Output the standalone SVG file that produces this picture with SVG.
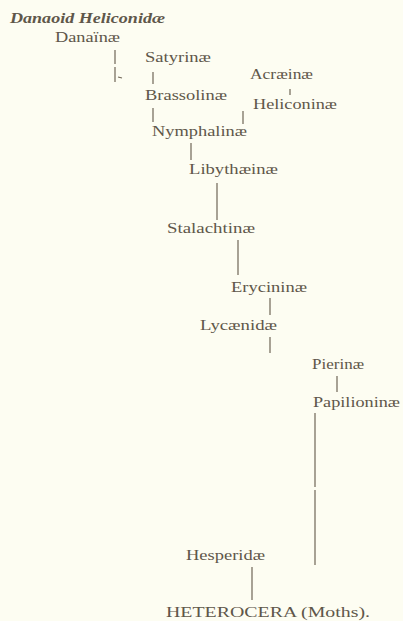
<svg xmlns="http://www.w3.org/2000/svg" width="403" height="621" viewBox="0 0 403 621">
<style>
text{font-family:"Liberation Serif","DejaVu Serif",serif;font-size:15px;fill:#5f574a}
.it{font-style:italic;font-weight:bold}
.c line{stroke:#6f6656;stroke-width:1.2}
</style>
<rect width="403" height="621" fill="#fdfdf2"/>
<g id="n-danaoid"><text class="it" x="10" y="23" textLength="155" lengthAdjust="spacingAndGlyphs">Danaoid Heliconidæ</text></g>
<g id="n-danainae"><text x="55" y="42" textLength="65" lengthAdjust="spacingAndGlyphs">Danaïnæ</text></g>
<g id="n-satyrinae"><text x="145" y="62" textLength="66" lengthAdjust="spacingAndGlyphs">Satyrinæ</text></g>
<g id="n-acraeinae"><text x="250" y="79" textLength="63" lengthAdjust="spacingAndGlyphs">Acræinæ</text></g>
<g id="n-brassolinae"><text x="145" y="100" textLength="82" lengthAdjust="spacingAndGlyphs">Brassolinæ</text></g>
<g id="n-heliconinae"><text x="253" y="109" textLength="84" lengthAdjust="spacingAndGlyphs">Heliconinæ</text></g>
<g id="n-nymphalinae"><text x="152" y="136" textLength="95" lengthAdjust="spacingAndGlyphs">Nymphalinæ</text></g>
<g id="n-libythaeinae"><text x="189" y="174" textLength="89" lengthAdjust="spacingAndGlyphs">Libythæinæ</text></g>
<g id="n-stalachtinae"><text x="167" y="233" textLength="88" lengthAdjust="spacingAndGlyphs">Stalachtinæ</text></g>
<g id="n-erycininae"><text x="231" y="292" textLength="76" lengthAdjust="spacingAndGlyphs">Erycininæ</text></g>
<g id="n-lycaenidae"><text x="200" y="330" textLength="77" lengthAdjust="spacingAndGlyphs">Lycænidæ</text></g>
<g id="n-pierinae"><text x="312" y="369" textLength="52" lengthAdjust="spacingAndGlyphs">Pierinæ</text></g>
<g id="n-papilioninae"><text x="313" y="407" textLength="87" lengthAdjust="spacingAndGlyphs">Papilioninæ</text></g>
<g id="n-hesperidae"><text x="186" y="560" textLength="79" lengthAdjust="spacingAndGlyphs">Hesperidæ</text></g>
<g id="n-heterocera"><text x="166" y="617" textLength="204" lengthAdjust="spacingAndGlyphs">HETEROCERA (Moths).</text></g>
<g id="connectors" class="c">
<line x1="115" y1="50" x2="115" y2="64"/>
<line x1="115" y1="67" x2="115" y2="82"/>
<line x1="118" y1="77" x2="122" y2="78"/>
<line x1="153" y1="72" x2="153" y2="84"/>
<line x1="290" y1="89" x2="290" y2="95"/>
<line x1="153" y1="108" x2="153" y2="122"/>
<line x1="243" y1="111" x2="243" y2="124"/>
<line x1="191" y1="143" x2="191" y2="160"/>
<line x1="217" y1="183" x2="217" y2="220"/>
<line x1="238" y1="240" x2="238" y2="275"/>
<line x1="270" y1="298" x2="270" y2="315"/>
<line x1="270" y1="337" x2="270" y2="353"/>
<line x1="337" y1="376" x2="337" y2="392"/>
<line x1="315" y1="413" x2="315" y2="487"/>
<line x1="315" y1="490" x2="315" y2="565"/>
<line x1="252" y1="567" x2="252" y2="600"/>
</g>
</svg>
